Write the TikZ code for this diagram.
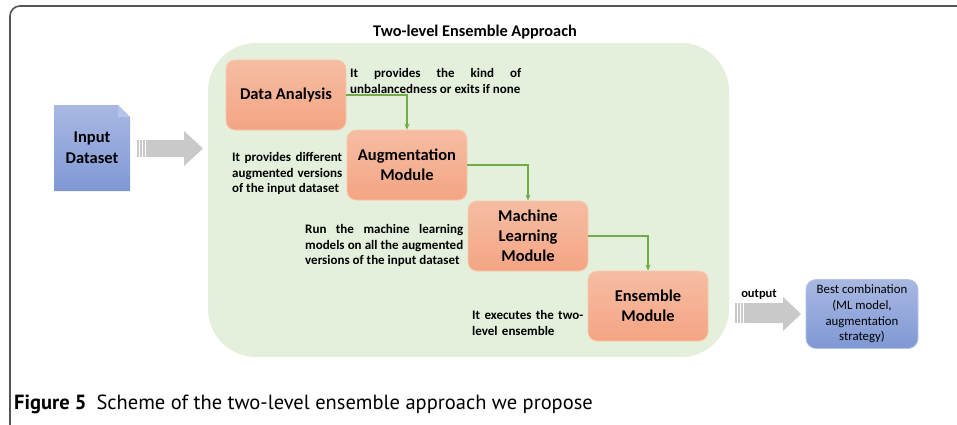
\documentclass[tikz,border=0pt]{standalone}
\usepackage{fontspec}
\setmainfont{Carlito}
\newfontfamily\capfont{PT Sans}
\usetikzlibrary{arrows.meta}
\newcommand\notesetup{\hyphenpenalty=10000\relax\tolerance=10000\relax}
\definecolor{greenbg}{HTML}{E4EFDC}
\definecolor{greenln}{HTML}{70AD47}
\definecolor{orangetop}{HTML}{F6BDA3}
\definecolor{orangebot}{HTML}{F4A583}
\definecolor{orangeln}{HTML}{F8CBAD}
\definecolor{bluetop}{HTML}{A9B8E2}
\definecolor{bluebot}{HTML}{7F98D5}
\definecolor{blueln}{HTML}{B4C4EA}
\definecolor{grayarr}{HTML}{C9C9C9}
\definecolor{frame}{HTML}{555555}
\tikzset{
  modbox/.style={draw=orangeln, line width=0.8pt, rounded corners=9pt,
    top color=orangetop, bottom color=orangebot, minimum width=120pt,
    minimum height=70pt, align=center, font=\fontsize{16.5}{20}\selectfont\bfseries,
    inner sep=0pt},
  note/.style={font=\fontsize{13}{15.7}\selectfont\bfseries\notesetup, align=justify,
    inner sep=0pt, anchor=north west},
  flow/.style={draw=greenln, line width=1.2pt, -{Stealth[length=6pt,width=5pt]}},
  bigarrow/.style={fill=grayarr, draw=none},
}
\begin{document}
\begin{tikzpicture}[x=1pt,y=-1pt]
\useasboundingbox (0,0) rectangle (957,424);
% outer frame
\draw[frame, line width=1.6pt, rounded corners=10pt] (10,430) -- (10,6) -- (965,6);
% green region
\fill[greenbg, rounded corners=48pt] (208,43) rectangle (729,357);
\node[font=\fontsize{16.3}{19}\selectfont\bfseries] (title) at (475,32) {Two-level Ensemble Approach};
% modules
\node[modbox] (da) at (286,95) {Data Analysis};
\node[modbox] (am) at (407,165) {Augmentation\\Module};
\node[modbox] (ml) at (528,236) {Machine\\Learning\\Module};
\node[modbox] (em) at (648,306) {Ensemble\\Module};
\draw[flow] (da.east) -| (am.north);
\draw[flow] (am.east) -| (ml.north);
\draw[flow] (ml.east) -| (em.north);
% notes
\node[note, text width=171pt] (n1) at (350,68) {It provides the kind of unbalancedness or exits if none};
\node[note, text width=110pt] (n2) at (232,152) {It provides different augmented versions of the input dataset};
\node[note, text width=158pt] (n3) at (305,224) {Run the machine learning models on all the augmented versions of the input dataset};
\node[note, text width=125pt, align=left] (n4) at (472,310) {It executes the two-\\level ensemble};
% input dataset
\shade[top color=bluetop, bottom color=bluebot] (54,105) -- (118,105) -- (130,117) -- (130,191) -- (54,191) -- cycle;
\fill[blueln] (118,105) -- (130,117) -- (118,117) -- cycle;
\node[font=\fontsize{16.5}{21}\selectfont\bfseries, align=center] (in) at (92,148) {Input\\Dataset};
% gray arrow 1
\fill[bigarrow] (150,140) -- (184,140) -- (184,131) -- (203,148.5) -- (184,166) -- (184,157) -- (150,157) -- cycle;
\foreach \xx in {137,140,143,146,148}
  \fill[grayarr] (\xx,140) rectangle ++(1.8,17);
% output arrow
\fill[bigarrow] (748,303) -- (783,303) -- (783,297) -- (801,314) -- (783,331) -- (783,323) -- (748,323) -- cycle;
\foreach \xx in {735,738,741,744,746}
  \fill[grayarr] (\xx,303) rectangle ++(1.8,20);
\node[font=\fontsize{12.5}{14}\selectfont\bfseries] (out) at (759,295) {output};
% best combination
\node[draw=blueln, line width=0.8pt, rounded corners=10pt, top color=bluetop, bottom color=bluebot,
  minimum width=112pt, minimum height=69pt, align=center, inner sep=0pt,
  font=\fontsize{12.8}{15.6}\selectfont] (best) at (862,314) {Best combination\\(ML model,\\augmentation\\strategy)};
% caption
\node[anchor=base west, inner sep=0pt, font=\capfont\fontsize{20.5}{24}\selectfont] (cap) at (14,409)
  {\textbf{Figure 5}\hspace{10pt}Scheme of the two-level ensemble approach we propose};
\end{tikzpicture}
\end{document}
